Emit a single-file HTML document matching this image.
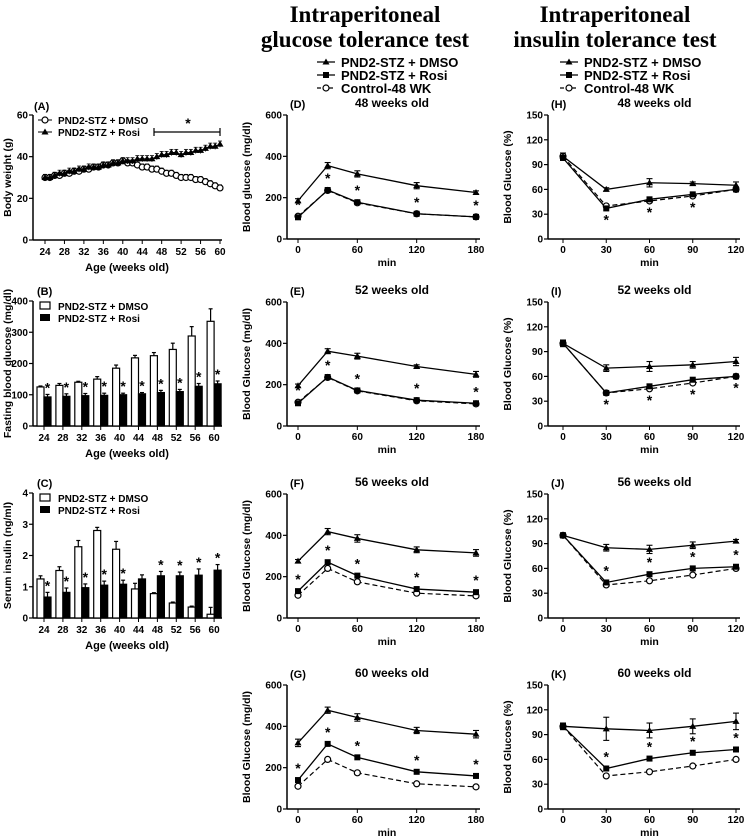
<!DOCTYPE html>
<html><head><meta charset="utf-8"><style>
html,body{margin:0;padding:0;background:#fff;}
svg{display:block;font-family:"Liberation Sans",Arial,sans-serif;}
</style></head><body>
<svg id="fig" width="745" height="840" viewBox="0 0 745 840" xmlns="http://www.w3.org/2000/svg">
<text x="365" y="22" text-anchor="middle" font-family="Liberation Serif" font-weight="bold" font-size="23">Intraperitoneal</text>
<text x="365" y="47" text-anchor="middle" font-family="Liberation Serif" font-weight="bold" font-size="23">glucose tolerance test</text>
<text x="615" y="22" text-anchor="middle" font-family="Liberation Serif" font-weight="bold" font-size="23">Intraperitoneal</text>
<text x="615" y="47" text-anchor="middle" font-family="Liberation Serif" font-weight="bold" font-size="23">insulin tolerance test</text>
</svg>
<script>
// ---------- data ----------
const weeksA = [24,25,26,27,28,29,30,31,32,33,34,35,36,37,38,39,40,41,42,43,44,45,46,47,48,49,50,51,52,53,54,55,56,57,58,59,60];
const bwDmso = [30,30,31,31,32,32,33,33,34,34,35,35,36,36,37,37,38,37,37,36,35,35,34,34,33,32,32,31,30,30,30,29,29,28,27,26,25];
const bwRosi = [30,30,31,32,32,33,33,34,34,35,35,35,36,36,37,37,38,38,38,39,39,39,39,40,41,41,42,42,41,42,42,43,43,44,45,45,46];
const ageCats = [24,28,32,36,40,44,48,52,56,60];
const fbgDmso = [125,130,140,150,185,218,225,245,288,335];
const fbgDmsoErr = [3,6,3,8,10,8,10,20,30,40];
const fbgRosi = [93,95,97,98,100,103,107,110,127,135];
const fbgRosiErr = [8,8,7,7,5,4,7,7,9,9];
const insDmso = [1.25,1.52,2.28,2.8,2.2,0.93,0.78,0.48,0.35,0.12];
const insDmsoErr = [0.1,0.12,0.2,0.1,0.25,0.18,0.03,0.03,0.03,0.22];
const insRosi = [0.67,0.82,0.97,1.05,1.08,1.25,1.35,1.35,1.37,1.53];
const insRosiErr = [0.15,0.14,0.12,0.13,0.13,0.13,0.14,0.12,0.2,0.18];
const insStar = [1,1,1,1,1,0,1,1,1,1];
const gttTimes = [0,30,60,120,180];
const ittTimes = [0,30,60,90,120];
const gttDmso = [[185,355,315,258,225],[195,362,338,288,250],[275,418,385,330,315],[320,478,443,380,362]];
const gttRosi = [[105,237,178,122,107],[110,237,172,125,110],[130,270,205,140,125],[140,315,250,180,160]];
const gttCtrl = [[110,235,175,122,107],[115,235,170,122,107],[110,240,175,120,107],[110,240,175,122,107]];
const gttErr = [[10,15,15,15,8],[8,12,14,8,14],[8,15,18,14,16],[18,15,18,15,18]];
const ittDmso = [[100,60,68,67,65],[100,70,72,74,78],[100,85,83,88,93],[100,97,95,100,106]];
const ittRosi = [[98,37,48,54,60],[100,40,48,56,60],[100,43,53,60,62],[100,49,61,68,72]];
const ittCtrl = [[100,40,46,52,60],[100,40,45,52,60],[100,40,45,52,60],[100,40,45,52,60]];
const ittErr = [[4,2,5,2,4],[4,4,6,4,5],[3,4,5,4,2],[4,14,9,9,10]];
const rowAges = ["48 weeks old","52 weeks old","56 weeks old","60 weeks old"];
const gttLetters = ["(D)","(E)","(F)","(G)"];
const ittLetters = ["(H)","(I)","(J)","(K)"];
const gttStars = [[1,1,1,1,1],[1,1,1,1,1],[1,1,1,1,1],[1,1,1,1,1]];
const ittStars = [[0,1,1,1,0],[0,1,1,1,1],[0,1,1,1,1],[0,1,1,1,1]];

// ---------- helpers ----------
const NS="http://www.w3.org/2000/svg";
const svg=document.getElementById('fig');
function mk(tag,attrs,parent){const e=document.createElementNS(NS,tag);for(const k in attrs)e.setAttribute(k,attrs[k]);(parent||svg).appendChild(e);return e;}
function txt(x,y,s,size,anchor,parent,extra){const e=mk('text',Object.assign({x:x,y:y,'font-size':size,'font-weight':'bold','text-anchor':anchor||'middle'},extra||{}),parent);e.textContent=s;return e;}
function lin(s,d){return v=>s[0]+(v-d[0])/(d[1]-d[0])*(s[1]-s[0]);}
function marker(type,x,y,g){
  if(type==='tri') return mk('path',{d:`M${x},${y-3.5}L${x+3.5},${y+2.5}L${x-3.5},${y+2.5}Z`,fill:'#000'},g);
  if(type==='sq') return mk('rect',{x:x-3,y:y-3,width:6,height:6,fill:'#000'},g);
  return mk('circle',{cx:x,cy:y,r:3,fill:'#fff',stroke:'#000','stroke-width':1.2},g);
}
function yAxis(g,ax,top,bot,ticks,sy,label,labelX){
  mk('line',{x1:ax,y1:top,x2:ax,y2:bot,stroke:'#000','stroke-width':1.5},g);
  ticks.forEach(t=>{mk('line',{x1:ax-4,y1:sy(t),x2:ax,y2:sy(t),stroke:'#000','stroke-width':1.2},g);txt(ax-5,sy(t)+3.5,String(t),10,'end',g);});
  const ly=(top+bot)/2;
  txt(labelX,ly,label,10.5,'middle',g,{transform:`rotate(-90 ${labelX} ${ly})`});
}

// ---------- Panel A ----------
(function(){
  const g=mk('g',{});
  
  
  const sx=lin([45,220],[24,60]), sy=lin([240,115],[0,60]);
  yAxis(g,33,115,240,[0,20,40,60],sy,'Body weight (g)',11);
  mk('line',{x1:33,y1:240,x2:222,y2:240,stroke:'#000','stroke-width':1.5},g);
  [24,28,32,36,40,44,48,52,56,60].forEach(t=>{mk('line',{x1:sx(t),y1:240,x2:sx(t),y2:244,stroke:'#000'},g);txt(sx(t),255,String(t),10,'middle',g);});
  txt(127,271,'Age (weeks old)',11,'middle',g);
  txt(34,110,'(A)',11,'start',g);
  [[bwDmso,'circ'],[bwRosi,'tri']].forEach(([vals,m])=>{
    mk('polyline',{points:weeksA.map((w,i)=>sx(w)+','+sy(vals[i])).join(' '),fill:'none',stroke:'#000','stroke-width':1},g);
    weeksA.forEach((w,i)=>{const x=sx(w);mk('line',{x1:x,y1:sy(vals[i]-1.5),x2:x,y2:sy(vals[i]+1.5),stroke:'#000','stroke-width':0.8},g);mk('line',{x1:x-2,y1:sy(vals[i]+1.5),x2:x+2,y2:sy(vals[i]+1.5),stroke:'#000','stroke-width':0.8},g);marker(m,x,sy(vals[i]),g);});
  });
  mk('line',{x1:38,y1:120,x2:52,y2:120,stroke:'#000'},g);marker('circ',45,120,g);
  txt(58,124,'PND2-STZ + DMSO',10,'start',g);
  mk('line',{x1:38,y1:132,x2:52,y2:132,stroke:'#000'},g);marker('tri',45,132,g);
  txt(58,136,'PND2-STZ + Rosi',10,'start',g);
  mk('path',{d:'M154,128V136M154,132H220M220,128V136',fill:'none',stroke:'#000','stroke-width':1.2},g);
  txt(188,128,'*',14,'middle',g);
})();

// ---------- bar panels B, C ----------
function barPanel(top,bot,maxV,ticks,d1,e1,d2,e2,stars,label,letter,name){
  const g=mk('g',{});
  
  
  const sy=lin([bot,top],[0,maxV]);
  const cx=i=>44+i*18.9;
  yAxis(g,33,top,bot,ticks,sy,label,11);
  mk('line',{x1:33,y1:bot,x2:222,y2:bot,stroke:'#000','stroke-width':1.5},g);
  ageCats.forEach((a,i)=>{
    const c=cx(i);
    mk('line',{x1:c,y1:bot,x2:c,y2:bot+4,stroke:'#000'},g);
    txt(c,bot+15,String(a),10,'middle',g);
    [[d1,e1,c-7,'#fff'],[d2,e2,c,'#000']].forEach(([d,e,x,f])=>{
      const v=d[i],y=sy(v),ye=sy(v+e[i]);
      mk('line',{x1:x+3.5,y1:y,x2:x+3.5,y2:ye,stroke:'#000','stroke-width':1.2},g);
      mk('line',{x1:x+1.5,y1:ye,x2:x+5.5,y2:ye,stroke:'#000','stroke-width':1.2},g);
      mk('rect',{x:x,y:y,width:7,height:bot-y,fill:f,stroke:'#000','stroke-width':1.2},g);
    });
    if(stars[i]) txt(c+3.5,sy(d2[i]+e2[i])-2,'*',14,'middle',g);
  });
  txt(127,bot+31,'Age (weeks old)',11,'middle',g);
  txt(37,top-6,letter,11,'start',g);
  mk('rect',{x:40,y:top+1,width:10,height:7,fill:'#fff',stroke:'#000','stroke-width':1.2},g);
  txt(58,top+9,'PND2-STZ + DMSO',10,'start',g);
  mk('rect',{x:40,y:top+13,width:10,height:7,fill:'#000'},g);
  txt(58,top+21,'PND2-STZ + Rosi',10,'start',g);
}
barPanel(301,426,400,[0,100,200,300,400],fbgDmso,fbgDmsoErr,fbgRosi,fbgRosiErr,[1,1,1,1,1,1,1,1,1,1],'Fasting blood glucose (mg/dl)','(B)','panel-b-fasting-glucose');
barPanel(493,618,4,[0,1,2,3,4],insDmso,insDmsoErr,insRosi,insRosiErr,insStar,'Serum insulin (ng/ml)','(C)','panel-c-serum-insulin');

// ---------- line panels ----------
function linePanel(r,left,x0,x1,times,xticks,xmax,maxV,yticks,D,R,C,E,stars,letter,ylabel,name){
  const tops=[115,302,494,685];
  const top=tops[r],bot=top+124;
  const g=mk('g',{});
  
  
  const sx=lin([x0,x1],[0,xmax]), sy=lin([bot,top],[0,maxV]);
  yAxis(g,left,top,bot,yticks,sy,ylabel,left-37);
  mk('line',{x1:left,y1:bot,x2:x1+4,y2:bot,stroke:'#000','stroke-width':1.5},g);
  xticks.forEach(t=>{mk('line',{x1:sx(t),y1:bot,x2:sx(t),y2:bot+4,stroke:'#000'},g);txt(sx(t),bot+14,String(t),10,'middle',g);});
  txt((x0+x1)/2,bot+27,'min',10.5,'middle',g);
  txt(left+3,top-7,letter,11,'start',g);
  txt((x0+x1)/2+5,top-8,rowAges[r],12,'middle',g);
  mk('polyline',{points:times.map((t,i)=>sx(t)+','+sy(C[i])).join(' '),fill:'none',stroke:'#000','stroke-width':1.2,'stroke-dasharray':'5,3'},g);
  [R,D].forEach(vals=>mk('polyline',{points:times.map((t,i)=>sx(t)+','+sy(vals[i])).join(' '),fill:'none',stroke:'#000','stroke-width':1.3},g));
  times.forEach((t,i)=>{
    const x=sx(t);
    const ye1=sy(D[i]+E[i]),ye2=sy(D[i]-E[i]);
    mk('line',{x1:x,y1:ye1,x2:x,y2:ye2,stroke:'#000','stroke-width':1.1},g);
    mk('line',{x1:x-3,y1:ye1,x2:x+3,y2:ye1,stroke:'#000','stroke-width':1.1},g);
    mk('line',{x1:x-3,y1:ye2,x2:x+3,y2:ye2,stroke:'#000','stroke-width':1.1},g);
    marker('circ',x,sy(C[i]),g);
    marker('sq',x,sy(R[i]),g);
    marker('tri',x,sy(D[i]),g);
    if(stars[i]){
      const ys = ylabel.indexOf('%')>=0 && R[i]<D[i] && r<2 ? sy(Math.min(R[i],C[i]))+16 : sy(Math.max(R[i],C[i]))-7;
      txt(x,ys,'*',14,'middle',g);
    }
  });
}
for(let r=0;r<4;r++){
  linePanel(r,287,298,476,gttTimes,[0,60,120,180],180,600,[0,200,400,600],gttDmso[r],gttRosi[r],gttCtrl[r],gttErr[r],gttStars[r],gttLetters[r],r===0?'Blood glucose (mg/dl)':'Blood Glucose (mg/dl)','panel-gtt-'+(48+4*r)+'wk');
  linePanel(r,548,563,736,ittTimes,[0,30,60,90,120],120,150,[0,30,60,90,120,150],ittDmso[r],ittRosi[r],ittCtrl[r],ittErr[r],ittStars[r],ittLetters[r],'Blood Glucose (%)','panel-itt-'+(48+4*r)+'wk');
}

// ---------- top legends ----------
function legend(x,name){
  const g=mk('g',{});
  
  
  const items=[['tri','PND2-STZ + DMSO',''],['sq','PND2-STZ + Rosi',''],['circ','Control-48 WK','4,2']];
  items.forEach((it,i)=>{
    const y=62+i*13;
    mk('line',{x1:x,y1:y,x2:x+18,y2:y,stroke:'#000','stroke-width':1.2,'stroke-dasharray':it[2]||'none'},g);
    marker(it[0],x+9,y,g);
    txt(x+24,y+5,it[1],13,'start',g);
  });
}
legend(317,'legend-gtt');
legend(560,'legend-itt');
</script>
</body></html>
